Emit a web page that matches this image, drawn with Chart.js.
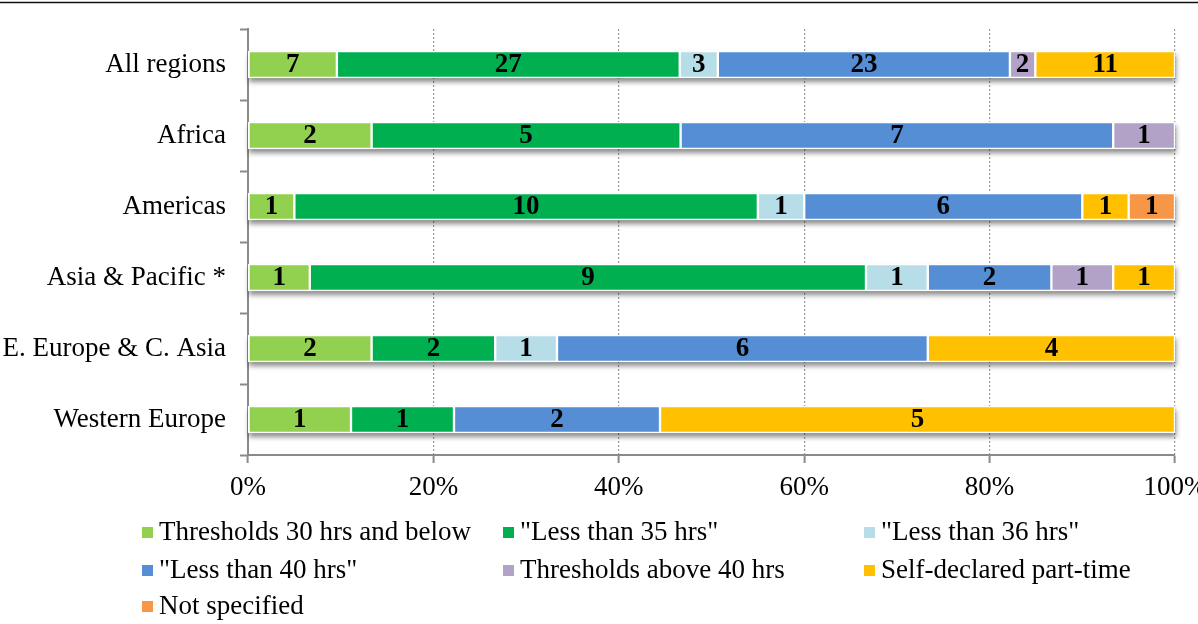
<!DOCTYPE html>
<html>
<head>
<meta charset="utf-8">
<script src="https://cdn.jsdelivr.net/npm/chart.js@4/dist/chart.umd.min.js"></script>
<style>
  html, body { margin: 0; padding: 0; background: #fff; }
  #wrap { position: relative; width: 1198px; height: 624px; }
</style>
</head>
<body>
<div id="wrap"><canvas id="c" width="1198" height="624"></canvas></div>
<script>
const categories = ["All regions", "Africa", "Americas", "Asia & Pacific *", "E. Europe & C. Asia", "Western Europe"];
const seriesNames = ["Thresholds 30 hrs and below", "\"Less than 35 hrs\"", "\"Less than 36 hrs\"", "\"Less than 40 hrs\"", "Thresholds above 40 hrs", "Self-declared part-time", "Not specified"];
const thresholds30 = [7, 2, 1, 1, 2, 1];
const lessThan35   = [27, 5, 10, 9, 2, 1];
const lessThan36   = [3, 0, 1, 1, 1, 0];
const lessThan40   = [23, 7, 6, 2, 6, 2];
const above40      = [2, 1, 0, 1, 0, 0];
const selfDeclared = [11, 0, 1, 1, 4, 5];
const notSpecified = [0, 0, 1, 0, 0, 0];
const xTickLabels = ["0%", "20%", "40%", "60%", "80%", "100%"];
const seriesColors = ["#92D050", "#00B050", "#B7DEE8", "#558ED5", "#B3A2C7", "#FFC000", "#F79646"];

const seriesCounts = [thresholds30, lessThan35, lessThan36, lessThan40, above40, selfDeclared, notSpecified];
const totals = categories.map((_, i) => seriesCounts.reduce((s, arr) => s + arr[i], 0));

const datasets = seriesCounts.map((arr, k) => ({
  label: seriesNames[k],
  counts: arr,
  data: arr.map((v, i) => v / totals[i] * 100),
  backgroundColor: seriesColors[k],
  borderColor: "#ffffff",
  borderWidth: 1.5,
  borderSkipped: false,
  barThickness: 27
}));

const FONT = "'Liberation Serif', 'Times New Roman', serif";
const FS = 27;

const shadowPlugin = {
  id: "shadow",
  beforeDatasetsDraw(chart) {
    const ctx = chart.ctx;
    const metas = chart.getSortedVisibleDatasetMetas();
    const xs = chart.scales.x;
    categories.forEach((_, i) => {
      const el = metas[0].data[i];
      const h = el.height;
      ctx.save();
      ctx.shadowColor = "rgba(0,0,0,0.45)";
      ctx.shadowBlur = 5;
      ctx.shadowOffsetY = 4;
      ctx.shadowOffsetX = 1;
      ctx.fillStyle = "#ffffff";
      const l = xs.getPixelForValue(0), r = xs.getPixelForValue(100);
      ctx.fillRect(l, el.y - h / 2, r - l, h);
      ctx.restore();
    });
  }
};

const labelPlugin = {
  id: "labels",
  afterDatasetsDraw(chart) {
    const ctx = chart.ctx;
    ctx.save();
    ctx.font = "bold " + FS + "px " + FONT;
    ctx.fillStyle = "#000";
    ctx.textAlign = "center";
    ctx.textBaseline = "middle";
    chart.data.datasets.forEach((ds, k) => {
      const meta = chart.getDatasetMeta(k);
      meta.data.forEach((el, i) => {
        const v = ds.counts[i];
        if (!v) return;
        const p = el.getCenterPoint();
        ctx.fillText(String(v), p.x, p.y + 1);
      });
    });
    ctx.restore();
  }
};

const legendPlugin = {
  id: "customLegend",
  afterDraw(chart) {
    const ctx = chart.ctx;
    const cols = [142, 503, 864];
    const rows = [532, 570, 606];
    ctx.save();
    ctx.font = FS + "px " + FONT;
    ctx.textBaseline = "middle";
    ctx.textAlign = "left";
    seriesNames.forEach((name, k) => {
      const x = cols[k % 3], y = rows[Math.floor(k / 3)];
      ctx.fillStyle = seriesColors[k];
      ctx.fillRect(x, y - 5, 11, 11);
      ctx.fillStyle = "#000";
      ctx.fillText(name, x + 17, y + 1);
    });
    // top rule
    ctx.strokeStyle = "#111";
    ctx.lineWidth = 1.5;
    ctx.beginPath();
    ctx.moveTo(0, 2.5);
    ctx.lineTo(chart.width, 2.5);
    ctx.stroke();
    ctx.restore();
  }
};

new Chart(document.getElementById("c"), {
  type: "bar",
  data: { labels: categories, datasets },
  plugins: [shadowPlugin, labelPlugin, legendPlugin],
  options: {
    indexAxis: "y",
    responsive: false,
    animation: false,
    layout: { padding: { left: 0, top: 29, right: 23, bottom: 124 } },
    plugins: { legend: { display: false }, tooltip: { enabled: false } },
    scales: {
      x: {
        stacked: true,
        min: 0,
        max: 100,
        afterBuildTicks(scale) {
          scale.ticks = xTickLabels.map((_, i) => ({ value: i * 20 }));
        },
        afterFit(scale) {
          scale.height = 45;
          scale.paddingLeft = 0;
          scale.paddingRight = 0;
        },
        ticks: {
          callback: (v, i) => xTickLabels[i],
          font: { family: FONT, size: FS },
          color: "#000",
          padding: 9,
          maxRotation: 0,
          autoSkip: false
        },
        grid: {
          color: (c) => (c.index === 0 ? "rgba(0,0,0,0)" : "#9a9a9a"),
          lineWidth: 1.2,
          tickColor: "#8a8a8a",
          tickWidth: 2,
          tickLength: 8,
          drawTicks: true
        },
        border: { display: true, color: "#8a8a8a", width: 2, dash: [2, 2] }
      },
      y: {
        stacked: true,
        afterFit(scale) {
          scale.width = 248;
          scale.paddingTop = 0;
          scale.paddingBottom = 0;
        },
        ticks: {
          font: { family: FONT, size: FS },
          color: "#000",
          padding: 14
        },
        grid: {
          offset: true,
          drawOnChartArea: false,
          tickColor: "#8a8a8a",
          tickWidth: 2,
          tickLength: 8
        },
        border: { display: true, color: "#8a8a8a", width: 2 }
      }
    }
  }
});
</script>
</body>
</html>
